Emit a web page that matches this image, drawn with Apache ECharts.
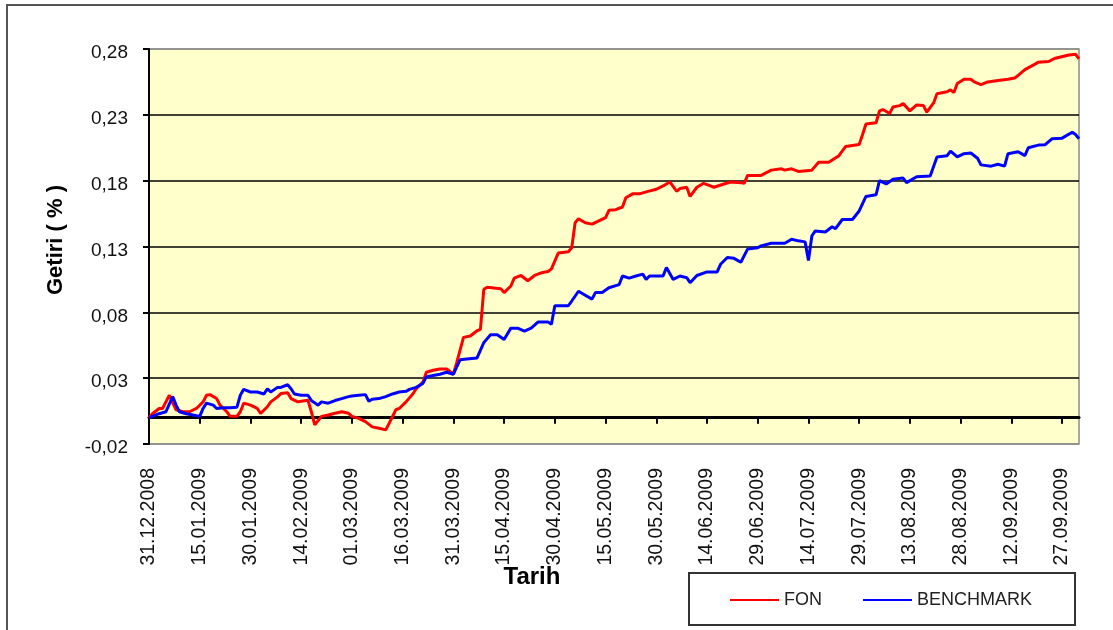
<!DOCTYPE html>
<html>
<head>
<meta charset="utf-8">
<script src="https://cdn.jsdelivr.net/npm/echarts@6/dist/echarts.min.js"></script>
<style>
html,body{margin:0;padding:0;background:#fff;}
#chart{width:1113px;height:630px;}
</style>
</head>
<body>
<div id="chart"></div>
<script>
// X tick labels (every 15 days from 31.12.2008), x values are day offsets
var tickLabels = ['31.12.2008','15.01.2009','30.01.2009','14.02.2009','01.03.2009','16.03.2009','31.03.2009','15.04.2009','30.04.2009','15.05.2009','30.05.2009','14.06.2009','29.06.2009','14.07.2009','29.07.2009','13.08.2009','28.08.2009','12.09.2009','27.09.2009'];

var fonDays = [0,1,3,4,5,6,8,10,12,14,16,17,18,20,21,23,24,26,27,28,30,32,33,35,36,38,39,41,42,44,45,47,48,49,51,53,55,57,59,60,62,64,66,68,70,71,73,74,76,78,79,81,82,84,86,88,90,91,93,95,97,98,99,100,104,105,107,108,110,112,114,116,118,119,121,124,125,126,127,129,131,133,135,136,138,140,141,143,145,147,150,152,154,156,157,159,160,162,164,166,167,170,172,175,176,177,181,184,187,188,190,192,196,198,201,204,206,210,211,212,215,216,217,219,220,222,223,225,227,229,230,232,233,236,237,238,239,241,243,244,246,248,251,254,256,257,259,262,263,266,268,272,274,275];
var fonValues = [0,0.003,0.007,0.007,0.012,0.017,0.006,0.0045,0.0045,0.007,0.012,0.017,0.0175,0.0145,0.0095,0.0045,0.001,0.001,0.0045,0.011,0.0095,0.007,0.0033,0.0083,0.012,0.0158,0.0183,0.019,0.0145,0.012,0.0125,0.0133,0.0045,-0.0055,0.001,0.002,0.0033,0.0045,0.0033,0.001,-0.0005,-0.003,-0.007,-0.008,-0.0093,-0.0043,0.006,0.007,0.012,0.018,0.022,0.027,0.0345,0.036,0.037,0.037,0.033,0.042,0.061,0.062,0.066,0.067,0.0975,0.099,0.098,0.095,0.1,0.106,0.108,0.104,0.108,0.11,0.111,0.113,0.125,0.126,0.129,0.148,0.151,0.148,0.147,0.1495,0.152,0.1575,0.158,0.16,0.167,0.17,0.17,0.1715,0.1735,0.176,0.179,0.172,0.174,0.175,0.168,0.175,0.178,0.176,0.175,0.1775,0.179,0.1785,0.178,0.184,0.184,0.188,0.189,0.188,0.189,0.187,0.188,0.194,0.194,0.199,0.206,0.2075,0.215,0.223,0.224,0.233,0.234,0.231,0.236,0.237,0.2385,0.233,0.2375,0.237,0.232,0.239,0.246,0.2475,0.249,0.247,0.2538,0.257,0.257,0.255,0.253,0.255,0.256,0.257,0.258,0.26,0.2643,0.2685,0.27,0.2705,0.273,0.2755,0.276,0.2725];

var benchDays = [0,1,3,5,7,8,9,11,13,15,16,17,19,20,22,24,26,27,28,30,32,34,35,36,38,39,41,42,43,45,47,48,50,51,53,55,57,59,60,62,64,65,66,68,70,72,74,76,77,79,81,82,84,86,88,90,92,94,97,99,101,103,105,107,109,111,113,115,118,119,120,124,125,127,129,131,132,134,136,139,140,142,144,146,147,148,152,153,155,157,159,160,162,165,168,169,171,173,175,177,180,181,184,188,190,192,194,195,196,197,200,202,203,205,208,210,212,215,216,218,220,223,224,227,231,233,236,237,239,241,243,245,246,249,251,253,254,257,259,260,263,265,267,270,273,274,275];
var benchValues = [0,0.001,0.003,0.0045,0.016,0.0095,0.0045,0.003,0.002,0.001,0.007,0.011,0.0095,0.007,0.0075,0.0075,0.008,0.017,0.0215,0.0195,0.0195,0.018,0.022,0.0195,0.023,0.023,0.025,0.022,0.018,0.017,0.017,0.013,0.0095,0.012,0.011,0.013,0.0145,0.016,0.0165,0.017,0.0175,0.0125,0.014,0.0145,0.016,0.018,0.0195,0.02,0.0215,0.023,0.026,0.031,0.032,0.033,0.0345,0.033,0.044,0.0446,0.0454,0.057,0.063,0.063,0.0594,0.068,0.068,0.0657,0.068,0.0726,0.0726,0.071,0.085,0.085,0.0886,0.096,0.093,0.09,0.095,0.095,0.0987,0.101,0.1076,0.106,0.1076,0.109,0.105,0.1076,0.1076,0.114,0.105,0.1076,0.1063,0.1025,0.108,0.1107,0.1107,0.1165,0.1216,0.121,0.118,0.128,0.129,0.1305,0.1325,0.1325,0.1355,0.1343,0.1335,0.1193,0.138,0.1418,0.141,0.145,0.1435,0.1505,0.1505,0.157,0.168,0.1693,0.18,0.1775,0.181,0.182,0.1785,0.183,0.1835,0.198,0.199,0.2025,0.198,0.2005,0.201,0.197,0.192,0.191,0.1925,0.191,0.2005,0.202,0.199,0.205,0.207,0.2073,0.2118,0.2123,0.2168,0.215,0.2118];

function pairs(d, v){ var out=[]; for (var i=0;i<d.length;i++) out.push([d[i], v[i]]); return out; }
var tickValues = tickLabels.map(function(_, i){ return i*15; });

var chart = echarts.init(document.getElementById('chart'));
chart.setOption({
  animation: false,
  backgroundColor: '#ffffff',
  grid: {left: 149, top: 49, width: 930, height: 395, show: true, backgroundColor: '#FFFFCC', borderColor: '#8c8c8c', borderWidth: 1.5},
  xAxis: {
    type: 'value', min: 0, max: 275, interval: 15,
    axisLine: {show: true, onZero: true, lineStyle: {color: '#000', width: 3}},
    axisTick: {show: true, length: 6, customValues: tickValues, lineStyle: {color: '#000', width: 2}},
    axisLabel: {show: true, rotate: 90, margin: 24, customValues: tickValues, fontFamily: 'Liberation Sans', fontSize: 19.5, color: '#111',
      formatter: function(v){ var k = Math.round(v/15); return (Math.abs(v - k*15) < 1e-6 && tickLabels[k]) ? tickLabels[k] : ''; }},
    splitLine: {show: false}
  },
  yAxis: {
    type: 'value', min: -0.02, max: 0.28, interval: 0.05,
    axisLine: {show: true, lineStyle: {color: '#000', width: 2}},
    axisTick: {show: true, length: 6, lineStyle: {color: '#000', width: 2}},
    axisLabel: {margin: 21, fontFamily: 'Liberation Sans', fontSize: 19, color: '#111', verticalAlign: 'top', lineHeight: 8,
      formatter: function(v){ return v.toFixed(2).replace('.', ','); }},
    splitLine: {show: true, lineStyle: {color: ['#8c8c8c','#000','#000','#000','#000','#000'], width: 1.5}}
  },
  legend: {
    left: 725, top: 586, itemWidth: 49, itemHeight: 2, itemGap: 41, icon: 'rect',
    textStyle: {fontFamily: 'Liberation Sans', fontSize: 18, color: '#222'},
    data: ['FON', 'BENCHMARK']
  },
  graphic: [
    {type: 'rect', shape: {x: 7, y: 5, width: 1200, height: 700}, style: {fill: 'none', stroke: '#555', lineWidth: 2}, z: -10, silent: true},
    {type: 'rect', shape: {x: 689, y: 573, width: 386, height: 52}, style: {fill: '#fff', stroke: '#333', lineWidth: 2}, z: 0, silent: true},
    {type: 'text', x: 532, y: 577, style: {text: 'Tarih', fontFamily: 'Liberation Sans', fontWeight: 'bold', fontSize: 24, fill: '#000', align: 'center', verticalAlign: 'middle'}, z: 10},
    {type: 'text', x: 56, y: 240, rotation: Math.PI/2, style: {text: 'Getiri ( % )', fontFamily: 'Liberation Sans', fontWeight: 'bold', fontSize: 22, fill: '#000', align: 'center', verticalAlign: 'middle'}, z: 10}
  ],
  series: [
    {name: 'FON', type: 'line', data: pairs(fonDays, fonValues), symbol: 'none', lineStyle: {color: '#FF0000', width: 3}, itemStyle: {color: '#FF0000'}, z: 3},
    {name: 'BENCHMARK', type: 'line', data: pairs(benchDays, benchValues), symbol: 'none', lineStyle: {color: '#0000FF', width: 3}, itemStyle: {color: '#0000FF'}, z: 4}
  ]
});
</script>
</body>
</html>
